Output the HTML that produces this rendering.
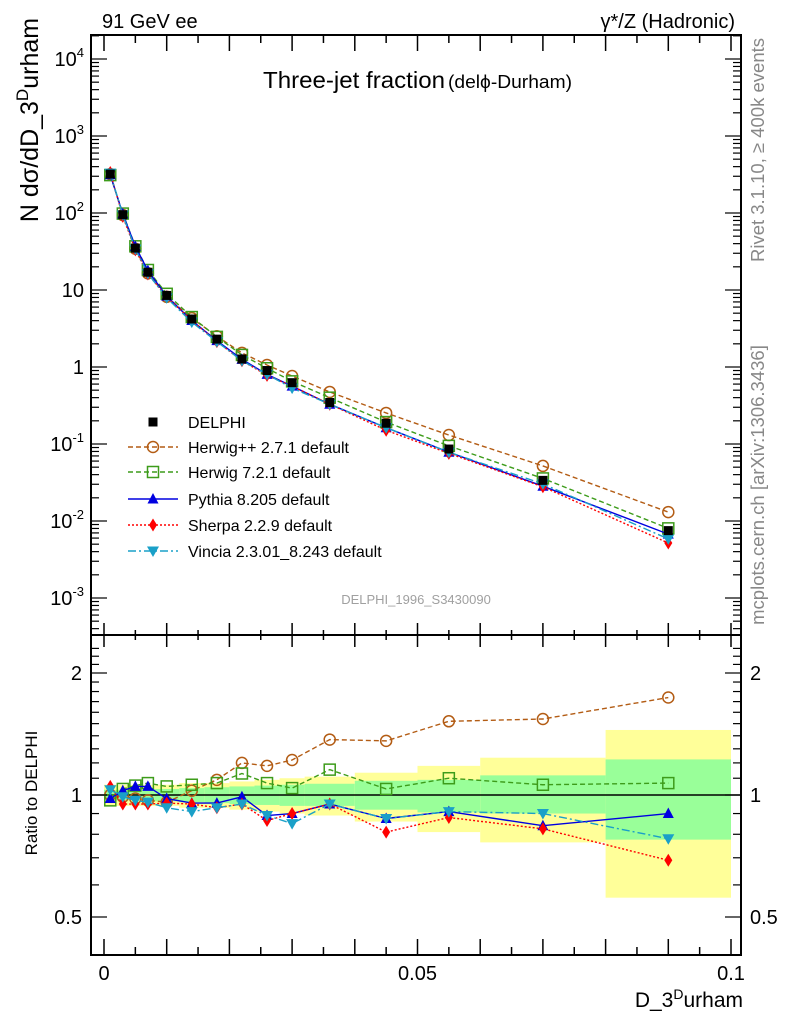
<!DOCTYPE html>
<html><head><meta charset="utf-8"><style>
body{margin:0;background:#fff;}
svg{display:block;font-family:"Liberation Sans",sans-serif;}
</style></head><body>
<svg id="chart" width="786" height="1024" xmlns="http://www.w3.org/2000/svg">
<defs>
<clipPath id="clipM"><rect x="91" y="35" width="650" height="600"/></clipPath>
<clipPath id="clipR"><rect x="91" y="635" width="650" height="320"/></clipPath>
</defs>
<g id="bands" clip-path="url(#clipR)"></g>
<g id="marksR" clip-path="url(#clipR)"></g>
<g id="marksM" clip-path="url(#clipM)"></g>
<g id="axes"></g>
<text x="102" y="28" font-size="20">91 GeV ee</text>
<text x="735" y="28" font-size="20" text-anchor="end">γ*/Z (Hadronic)</text>
<text x="263" y="88" font-size="23" textLength="182" lengthAdjust="spacingAndGlyphs">Three-jet fraction</text>
<text x="448" y="88" font-size="18" textLength="124" lengthAdjust="spacingAndGlyphs">(delϕ-Durham)</text>
<text x="416" y="604" font-size="13" fill="#a0a0a0" text-anchor="middle">DELPHI_1996_S3430090</text>
<text transform="translate(38,120) rotate(-90)" font-size="25" text-anchor="middle">N dσ/dD_3<tspan dy="-10" font-size="17">D</tspan><tspan dy="10">urham</tspan></text>
<text transform="translate(37,793) rotate(-90)" font-size="17" text-anchor="middle">Ratio to DELPHI</text>
<text x="743" y="1007" font-size="21" text-anchor="end">D_3<tspan dy="-8" font-size="14">D</tspan><tspan dy="8">urham</tspan></text>
<text transform="translate(764,150) rotate(-90)" font-size="18.5" fill="#888" text-anchor="middle">Rivet 3.1.10, ≥ 400k events</text>
<text transform="translate(764,485) rotate(-90)" font-size="18.5" fill="#888" text-anchor="middle">mcplots.cern.ch [arXiv:1306.3436]</text>
<g id="legend"></g>
</svg>
<script>
const xCenters=[0.001,0.003,0.005,0.007,0.01,0.014,0.018,0.022,0.026,0.03,0.036,0.045,0.055,0.07,0.09];
const binEdges=[0,0.002,0.004,0.006,0.008,0.012,0.016,0.02,0.024,0.028,0.032,0.04,0.05,0.06,0.08,0.1];
const delphi=[320,95,35,17,8.5,4.2,2.3,1.27,0.9,0.626,0.346,0.186,0.086,0.0337,0.0075];
const yellowHi=[1.06,1.06,1.06,1.06,1.06,1.07,1.07,1.08,1.09,1.1,1.11,1.135,1.18,1.236,1.447];
const yellowLo=[0.94,0.94,0.94,0.94,0.94,0.93,0.93,0.92,0.91,0.9,0.89,0.86,0.81,0.764,0.558];
const greenHi=[1.03,1.03,1.03,1.03,1.035,1.04,1.045,1.05,1.055,1.06,1.066,1.084,1.09,1.118,1.224];
const greenLo=[0.97,0.97,0.97,0.97,0.965,0.96,0.955,0.95,0.945,0.94,0.94,0.92,0.906,0.9,0.776];
const rHerwigpp=[1.0,0.99,0.98,0.97,0.96,1.025,1.09,1.2,1.18,1.22,1.37,1.36,1.52,1.54,1.74];
const rHerwig7=[0.97,1.035,1.055,1.07,1.05,1.06,1.07,1.13,1.07,1.04,1.155,1.035,1.1,1.06,1.07];
const rPythia=[0.98,1.025,1.05,1.05,0.98,0.955,0.955,0.99,0.89,0.9,0.95,0.875,0.91,0.84,0.9];
const rSherpa=[1.05,0.95,0.95,0.95,0.955,0.95,0.93,0.95,0.865,0.9,0.95,0.81,0.88,0.825,0.69];
const rVincia=[1.03,0.99,0.97,0.96,0.93,0.91,0.93,0.95,0.89,0.85,0.95,0.875,0.91,0.9,0.78];
const yMainTicks=["10<tspan dy='-9' font-size='13'>-3</tspan>","10<tspan dy='-9' font-size='13'>-2</tspan>","10<tspan dy='-9' font-size='13'>-1</tspan>","1","10","10<tspan dy='-9' font-size='13'>2</tspan>","10<tspan dy='-9' font-size='13'>3</tspan>","10<tspan dy='-9' font-size='13'>4</tspan>"];
const yMainTickExp=[-3,-2,-1,0,1,2,3,4];
const ratioTickVals=[0.5,1,2];
const xTickVals=[0,0.05,0.1];

const NS="http://www.w3.org/2000/svg";
const L=91,R=741,T=35,MB=635,B=955;
const X=v=>104+v*6270;
const YM=v=>367-77*Math.log10(v);
const YR=v=>795-122*Math.log2(v);
function mk(p,tag,at){const e=document.createElementNS(NS,tag);for(const k in at)e.setAttribute(k,at[k]);p.appendChild(e);return e;}

const gB=document.getElementById('bands');
for(let i=0;i<xCenters.length;i++){
  const x0=X(binEdges[i]),x1=X(binEdges[i+1]);
  const y=mk(gB,'rect',{x:x0,y:YR(yellowHi[i]),width:x1-x0,height:YR(yellowLo[i])-YR(yellowHi[i]),fill:'#ffff99'});
  
  
  const g=mk(gB,'rect',{x:x0,y:YR(greenHi[i]),width:x1-x0,height:YR(greenLo[i])-YR(greenHi[i]),fill:'#99ff99'});
  
  
}
mk(gB,'line',{x1:L,x2:R,y1:YR(1),y2:YR(1),stroke:'#000','stroke-width':1.5});

function marker(p,type,x,y,c){
  if(type==='sq')return mk(p,'rect',{x:x-4.5,y:y-4.5,width:9,height:9,fill:'#000'});
  if(type==='osq')return mk(p,'rect',{x:x-5.5,y:y-5.5,width:11,height:11,fill:'none',stroke:c,'stroke-width':1.5});
  if(type==='circ')return mk(p,'circle',{cx:x,cy:y,r:5.5,fill:'none',stroke:c,'stroke-width':1.5});
  if(type==='tri')return mk(p,'polygon',{points:`${x},${y-6} ${x-5.5},${y+4.5} ${x+5.5},${y+4.5}`,fill:c});
  if(type==='dia')return mk(p,'polygon',{points:`${x},${y-6.5} ${x-4},${y} ${x},${y+6.5} ${x+4},${y}`,fill:c});
  if(type==='itri')return mk(p,'polygon',{points:`${x},${y+6} ${x-6},${y-4.5} ${x+6},${y-4.5}`,fill:c});
}
const series=[
 {name:'herwigpp',label:'Herwig++ 2.7.1 default',r:rHerwigpp,c:'#b35c14',m:'circ',dash:'5,3'},
 {name:'herwig7',label:'Herwig 7.2.1 default',r:rHerwig7,c:'#3d9c1a',m:'osq',dash:'5,3'},
 {name:'pythia',label:'Pythia 8.205 default',r:rPythia,c:'#0000e0',m:'tri',dash:''},
 {name:'sherpa',label:'Sherpa 2.2.9 default',r:rSherpa,c:'#ff0000',m:'dia',dash:'2,2'},
 {name:'vincia',label:'Vincia 2.3.01_8.243 default',r:rVincia,c:'#1aa0c8',m:'itri',dash:'8,3,2,3'}
];
const gM=document.getElementById('marksM'),gR=document.getElementById('marksR');
series.forEach(s=>{
  const ptsM=xCenters.map((x,i)=>X(x)+','+YM(delphi[i]*s.r[i])).join(' ');
  const ptsR=xCenters.map((x,i)=>X(x)+','+YR(s.r[i])).join(' ');
  const lm=mk(gM,'polyline',{points:ptsM,fill:'none',stroke:s.c,'stroke-width':1.4,'stroke-dasharray':s.dash});
  
  
  const lr=mk(gR,'polyline',{points:ptsR,fill:'none',stroke:s.c,'stroke-width':1.4,'stroke-dasharray':s.dash});
  
  
  xCenters.forEach((x,i)=>{
    const a=marker(gM,s.m,X(x),YM(delphi[i]*s.r[i]),s.c);
    
    
    const b=marker(gR,s.m,X(x),YR(s.r[i]),s.c);
    
    
  });
});
xCenters.forEach((x,i)=>{
  const d=marker(gM,'sq',X(x),YM(delphi[i]),'#000');
  
  
});

const gA=document.getElementById('axes');
mk(gA,'rect',{x:L,y:T,width:R-L,height:MB-T,fill:'none',stroke:'#000','stroke-width':2});
mk(gA,'rect',{x:L,y:MB,width:R-L,height:B-MB,fill:'none',stroke:'#000','stroke-width':2});
for(let k=0;k<=20;k++){
  const v=k*0.005,x=X(v),len=(k%2===0)?16:8,len2=(k%2===0)?12:5;
  [[T,1],[MB,-1],[MB,1],[B,-1]].forEach(([y0,d])=>{
    const l=(y0===T||y0===B)?len:len2;
    mk(gA,'line',{x1:x,x2:x,y1:y0,y2:y0+d*l,stroke:'#000','stroke-width':1.5});
  });
}
xTickVals.forEach(v=>{
  const t=mk(gA,'text',{x:X(v),y:980,'font-size':20,'text-anchor':'middle'});
  t.textContent=v===0?'0':String(v);
  
  
});
for(let e=-4;e<=4;e++){
  for(let m=1;m<10;m++){
    const y=YM(m*Math.pow(10,e));
    if(y<T||y>MB)continue;
    const len=m===1?16:8;
    mk(gA,'line',{x1:L,x2:L+len,y1:y,y2:y,stroke:'#000','stroke-width':1.2});
    mk(gA,'line',{x1:R,x2:R-len,y1:y,y2:y,stroke:'#000','stroke-width':1.2});
  }
}
yMainTickExp.forEach((e,i)=>{
  const t=mk(gA,'text',{x:84,y:YM(Math.pow(10,e))+7,'font-size':20,'text-anchor':'end'});
  t.innerHTML=yMainTicks[i];
  
  
});
for(let v=0.4;v<=2.31;v+=0.1){
  const vv=Math.round(v*10)/10,y=YR(vv);
  if(y<MB||y>B)continue;
  const len=(vv===0.5||vv===1||vv===2)?16:8;
  mk(gA,'line',{x1:L,x2:L+len,y1:y,y2:y,stroke:'#000','stroke-width':1.2});
  mk(gA,'line',{x1:R,x2:R-len,y1:y,y2:y,stroke:'#000','stroke-width':1.2});
}
ratioTickVals.forEach(v=>{
  [[82,'end'],[750,'start']].forEach(([x,a])=>{
    const t=mk(gA,'text',{x:x,y:YR(v)+7,'font-size':20,'text-anchor':a});
    t.textContent=String(v);
    
    
  });
});

const gL=document.getElementById('legend');
const rowY=[422,447,472,499,525,551];
const dm=marker(gL,'sq',153,rowY[0],'#000');


const t0=mk(gL,'text',{x:188,y:rowY[0]+6,'font-size':16});
t0.textContent='DELPHI';


series.forEach((s,i)=>{
  const y=rowY[i+1];
  mk(gL,'line',{x1:128,x2:178,y1:y,y2:y,stroke:s.c,'stroke-width':1.4,'stroke-dasharray':s.dash});
  const m=marker(gL,s.m,153,y,s.c);
  
  
  const t=mk(gL,'text',{x:188,y:y+6,'font-size':16});
  t.textContent=s.label;
  
  
});
</script>
</body></html>
